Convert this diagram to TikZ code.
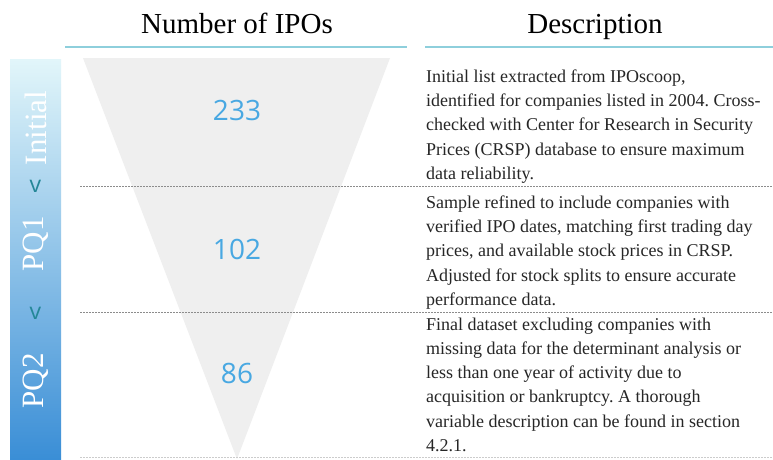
\documentclass[tikz,border=0pt]{standalone}
\usepackage{fontspec}
\setmainfont{Liberation Serif}
\newfontfamily\numfont{Open Sans}
\frenchspacing
\begin{document}
\begin{tikzpicture}[x=1pt,y=-1pt,
  headtxt/.style={font=\fontsize{29}{32}\selectfont, anchor=base},
  headrule/.style={draw=ruleteal, line width=1.6pt},
  count/.style={font=\numfont\fontsize{28}{30}\selectfont, text=countblue, inner sep=0pt},
  desc/.style={font=\fontsize{18}{24.2}\selectfont, align=left, anchor=north west, inner sep=0pt, text=black!85},
  stage/.style={font=\fontsize{31}{33}\selectfont, text=white, rotate=90, inner sep=0pt},
  chev/.style={font=\numfont\fontsize{23}{25}\selectfont, text=chevteal, inner sep=0pt},
  sep/.style={draw=black!45, line width=0.6pt, dash pattern=on 2pt off 1pt}]
\definecolor{ruleteal}{HTML}{8ECFDC}
\definecolor{countblue}{HTML}{48A8E2}
\definecolor{chevteal}{HTML}{248797}
\definecolor{funnelgray}{HTML}{EFEFEF}
\definecolor{bartop}{HTML}{E2F6FA}
\definecolor{barmid}{HTML}{A2D8EE}
\definecolor{barbot}{HTML}{3A8ED6}

\useasboundingbox[fill=white] (0,0) rectangle (773,459);

% column headers and their rules
\node[headtxt] (hcount) at (237,33) {Number of IPOs};
\node[headtxt] (hdesc) at (595,33) {Description};
\draw[headrule] (65,47) -- (407,47);
\draw[headrule] (425,47) -- (773,47);

% funnel
\fill[funnelgray] (83,58) -- (390,58) -- (237,459) -- cycle;

% stage bar on the left
\shade[top color=bartop, middle color=barmid, bottom color=barbot] (10,59) rectangle (61,459);
\node[stage] (s0) at (35.5,128) {Initial};
\node[stage] (s1) at (35.5,244) {PQ1};
\node[stage] (s2) at (35.5,381) {PQ2};
\node[chev] (c1) at (35.5,186) {v};
\node[chev] (c2) at (35.5,313) {v};

% row separators
\coordinate (d1a) at (80,186);  \coordinate (d1b) at (773,186);
\coordinate (d2a) at (80,312);  \coordinate (d2b) at (773,312);
\coordinate (d3a) at (80,457.5);\coordinate (d3b) at (773,457.5);
\draw[sep] (d1a) -- (d1b);
\draw[sep] (d2a) -- (d2b);
\draw[sep, draw=black!20] (d3a) -- (d3b);

% counts
\node[count] (n0) at (237,110.5) {233};
\node[count] (n1) at (237,249) {102};
\node[count] (n2) at (237,373) {86};

% descriptions
\node[desc] (t0) at (426,69.6) {Initial list extracted from IPOscoop,\\
identified for companies listed in 2004. Cross-\\
checked with Center for Research in Security\\
Prices (CRSP) database to ensure maximum\\
data reliability.};
\node[desc] (t1) at (426,195.6) {Sample refined to include companies with\\
verified IPO dates, matching first trading day\\
prices, and available stock prices in CRSP.\\
Adjusted for stock splits to ensure accurate\\
performance data.};
\node[desc] (t2) at (426,317.6) {Final dataset excluding companies with\\
missing data for the determinant analysis or\\
less than one year of activity due to\\
acquisition or bankruptcy. A thorough\\
variable description can be found in section\\
4.2.1.};
\end{tikzpicture}
\end{document}
